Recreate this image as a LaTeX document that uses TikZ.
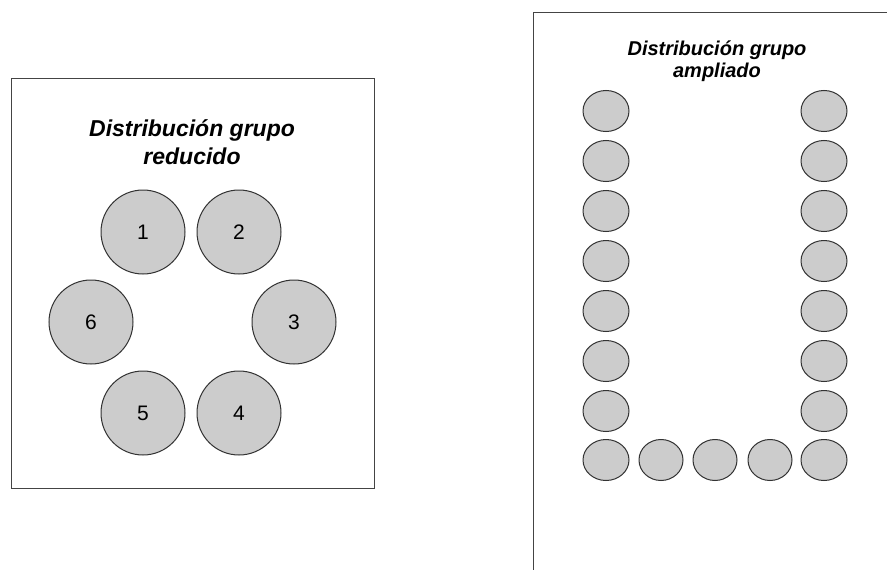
\documentclass[tikz,border=0pt]{standalone}
\usepackage{fontspec}
\setmainfont{Liberation Sans}
\usetikzlibrary{shapes.geometric}
\definecolor{seat}{HTML}{CCCCCC}
\definecolor{edge}{HTML}{333333}
\definecolor{frame}{HTML}{444444}
\begin{document}
\begin{tikzpicture}[x=1pt,y=-1pt,
  roundseat/.style={circle,draw=edge,fill=seat,line width=1pt,minimum size=84pt,inner sep=0pt,font=\fontsize{21}{24}\selectfont},
  ovalseat/.style={ellipse,draw=edge,fill=seat,line width=1pt,minimum width=46pt,minimum height=41pt,inner sep=0pt},
  roomframe/.style={draw=frame,line width=1pt},
  titletext/.style={align=center,font=\bfseries\itshape\fontsize{23}{28}\selectfont}
]
\useasboundingbox (0,0) rectangle (887,570);
\clip (0,0) rectangle (887,570);
\fill[white] (0,0) rectangle (887,570);
% left room
\draw[roomframe] (11,78) rectangle (374,488);
\node[titletext] (t1) at (192,142) {Distribución grupo\\reducido};
\node[roundseat] (s1) at (143,232) {1};
\node[roundseat] (s2) at (239,232) {2};
\node[roundseat] (s3) at (294,322) {3};
\node[roundseat] (s4) at (239,413) {4};
\node[roundseat] (s5) at (143,413) {5};
\node[roundseat] (s6) at (91,322) {6};
% right room
\draw[roomframe] (533,12) rectangle (900,600);
\node[titletext,font=\bfseries\itshape\fontsize{20}{22}\selectfont] (t2) at (717,61) {Distribución grupo\\ampliado};
\foreach \i/\y in {1/111,2/161,3/211,4/261,5/311,6/361,7/411}{
  \node[ovalseat] (l\i) at (606,\y) {};
  \node[ovalseat] (r\i) at (824,\y) {};
}
\node[ovalseat] (b1) at (606,460) {};
\node[ovalseat,minimum width=44pt] (b2) at (661,460) {};
\node[ovalseat,minimum width=44pt] (b3) at (715,460) {};
\node[ovalseat,minimum width=44pt] (b4) at (770,460) {};
\node[ovalseat] (b5) at (824,460) {};
\end{tikzpicture}
\end{document}
